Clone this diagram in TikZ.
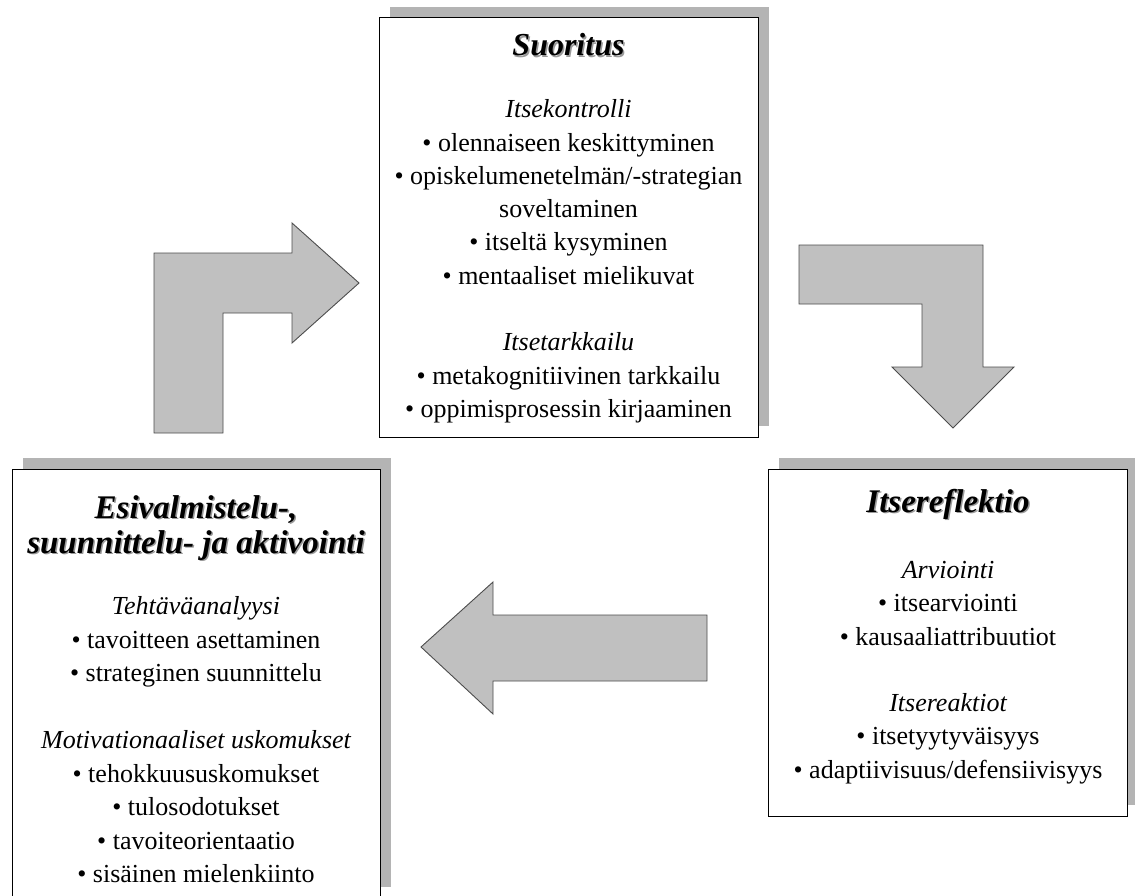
\documentclass[tikz,border=0pt]{standalone}
\usepackage{fontspec}
\setmainfont{Liberation Serif}
\definecolor{arrowgray}{HTML}{C0C0C0}
\definecolor{shadowgray}{HTML}{B4B4B4}
\definecolor{titleshadow}{HTML}{9A9A9A}
\begin{document}
\begin{tikzpicture}[x=1pt,y=-1pt,
  box/.style={draw=black, line width=1pt, fill=white, inner sep=0pt, outer sep=0pt, anchor=north west},
  shadowbox/.style={fill=shadowgray},
  bigarrow/.style={fill=arrowgray, draw=black!70, line width=0.9pt, line join=miter},
  ttl/.style={font=\fontsize{33}{35}\selectfont\bfseries\itshape, inner sep=0pt, anchor=base, align=center},
  ttlsmall/.style={font=\fontsize{32}{32}\selectfont\bfseries\itshape, inner sep=0pt, anchor=base},
  tshadow/.style={text=titleshadow},
  sub/.style={font=\fontsize{26}{26}\selectfont\itshape, inner sep=0pt, anchor=base},
  item/.style={font=\fontsize{26}{26}\selectfont, inner sep=0pt, anchor=base},
]
\useasboundingbox (0,0) rectangle (1135,896);

% ---------- shadows ----------
\fill[shadowbox] (390,7) rectangle (769,426);
\fill[shadowbox] (23,458) rectangle (391,887);
\fill[shadowbox] (779,458) rectangle (1138,805);

% ---------- boxes ----------
\node[box, minimum width=379pt, minimum height=419pt] (suorbox) at (379,18) {};
\node[box, minimum width=368pt, minimum height=429pt] (esibox) at (12,469) {};
\node[box, minimum width=359pt, minimum height=347pt] (refbox) at (768,469) {};

% ---------- arrows ----------
\draw[bigarrow] (154,433) -- (154,253) -- (292,253) -- (292,223) -- (359,283)
  -- (292,343) -- (292,313) -- (223,313) -- (223,433) -- cycle;
\draw[bigarrow] (799,245) -- (983,245) -- (983,367) -- (1014,367) -- (953,428)
  -- (892,367) -- (922,367) -- (922,304) -- (799,304) -- cycle;
\draw[bigarrow] (707,615) -- (493,615) -- (493,582) -- (421,647) -- (493,714)
  -- (493,681) -- (707,681) -- cycle;

% ---------- Suoritus ----------
\node[ttlsmall, tshadow] (suorS) at (570,57.5) {Suoritus};
\node[ttlsmall] (suorT) at (568.5,56) {Suoritus};
\node[sub]  (s1) at (568.5,118) {Itsekontrolli};
\node[item] (s2) at (568.5,151.5) {• olennaiseen keskittyminen};
\node[item] (s3) at (568.5,185) {• opiskelumenetelmän/-strategian};
\node[item] (s4) at (568.5,218) {soveltaminen};
\node[item] (s5) at (568.5,251) {• itseltä kysyminen};
\node[item] (s6) at (568.5,284) {• mentaaliset mielikuvat};
\node[sub]  (s7) at (568.5,350.5) {Itsetarkkailu};
\node[item] (s8) at (568.5,384) {• metakognitiivinen tarkkailu};
\node[item] (s9) at (568.5,417) {• oppimisprosessin kirjaaminen};

% ---------- Esivalmistelu ----------
\node[ttl, tshadow] (eTS) at (197.5,554.5) {Esivalmistelu-,\\suunnittelu- ja aktivointi};
\node[ttl] (eT) at (196,553) {Esivalmistelu-,\\suunnittelu- ja aktivointi};
\node[sub]  (e1) at (196,614.5) {Tehtäväanalyysi};
\node[item] (e2) at (196,648) {• tavoitteen asettaminen};
\node[item] (e3) at (196,681.5) {• strateginen suunnittelu};
\node[sub]  (e4) at (196,748.5) {Motivationaaliset uskomukset};
\node[item] (e5) at (196,782) {• tehokkuususkomukset};
\node[item] (e6) at (196,815.5) {• tulosodotukset};
\node[item] (e7) at (196,849) {• tavoiteorientaatio};
\node[item] (e8) at (196,882.5) {• sisäinen mielenkiinto};

% ---------- Itsereflektio ----------
\node[ttl, tshadow] (rTS) at (949.5,513.5) {Itsereflektio};
\node[ttl] (rT) at (948,512) {Itsereflektio};
\node[sub]  (r1) at (948,578) {Arviointi};
\node[item] (r2) at (948,611.5) {• itsearviointi};
\node[item] (r3) at (948,645) {• kausaaliattribuutiot};
\node[sub]  (r4) at (948,711) {Itsereaktiot};
\node[item] (r5) at (948,744.5) {• itsetyytyväisyys};
\node[item] (r6) at (948,778) {• adaptiivisuus/defensiivisyys};
\end{tikzpicture}
\end{document}
